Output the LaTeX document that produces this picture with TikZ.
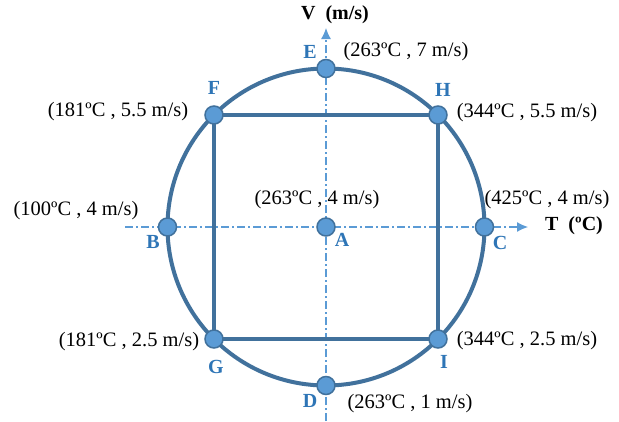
\documentclass[tikz,border=0pt]{standalone}
\usepackage{fontspec}
\setmainfont{Liberation Serif}
\usetikzlibrary{arrows.meta}
\definecolor{ringblue}{HTML}{41719C}
\definecolor{dotblue}{HTML}{5B9BD5}
\definecolor{tagblue}{HTML}{2E75B6}

\begin{document}
\begin{tikzpicture}[x=1pt, y=-1pt,
  ring/.style={draw=ringblue, line width=4pt},
  pt/.style={circle, fill=dotblue, draw=ringblue, line width=1.5pt, minimum size=18pt, inner sep=0pt},
  tag/.style={text=tagblue, font=\fontsize{20}{24}\selectfont\bfseries},
  val/.style={font=\fontsize{20.5}{24}\selectfont},
  axis/.style={draw=dotblue, line width=1.2pt, dash pattern=on 8pt off 3pt on 2pt off 3pt,
    -{Latex[length=11pt,width=10pt]}}]
  \useasboundingbox (0,0) rectangle (619,421);

  % Axes
  \coordinate (O) at (326,227);
  \coordinate (Tstart) at (125,227);
  \coordinate (Tend) at (528,227);
  \coordinate (Vstart) at (326,421);
  \coordinate (Vend) at (326,28);
  \draw[axis] (Tstart) -- (Tend);
  \draw[axis] (Vstart) -- (Vend);
  \node[font=\fontsize{20}{24}\selectfont\bfseries] (Vlab) at (335,15) {V\ \ (m/s)};
  \node[font=\fontsize{20}{24}\selectfont\bfseries] (Tlab) at (574,226) {T\ \ (ºC)};

  % Circle and square
  \coordinate (pF) at (214,115);
  \coordinate (pI) at (438,339);
  \draw[ring] (O) circle (158.5);
  \draw[ring] (pF) rectangle (pI);

  % Points
  \node[pt] (A) at (O) {};
  \node[pt] (B) at (167.5,227) {};
  \node[pt] (C) at (484.5,227) {};
  \node[pt] (D) at (326,385.5) {};
  \node[pt] (E) at (326,68.5) {};
  \node[pt] (F) at (214,115) {};
  \node[pt] (H) at (438,115) {};
  \node[pt] (G) at (214,339) {};
  \node[pt] (I) at (438,339) {};

  % Letters
  \node[tag] (tA) at (342,240) {A};
  \node[tag] (tB) at (153,242) {B};
  \node[tag] (tC) at (500,243) {C};
  \node[tag] (tD) at (310,401) {D};
  \node[tag] (tE) at (310,52) {E};
  \node[tag] (tF) at (214,88) {F};
  \node[tag] (tH) at (443,90) {H};
  \node[tag] (tG) at (216,367) {G};
  \node[tag] (tI) at (444,362) {I};

  % Values
  \node[val] (vA) at (317,200) {(263ºC , 4 m/s)};
  \node[val] (vB) at (76,211) {(100ºC , 4 m/s)};
  \node[val] (vC) at (547,200) {(425ºC , 4 m/s)};
  \node[val] (vD) at (410,404) {(263ºC , 1 m/s)};
  \node[val] (vE) at (406,52) {(263ºC , 7 m/s)};
  \node[val] (vF) at (118,112) {(181ºC , 5.5 m/s)};
  \node[val] (vH) at (527,113) {(344ºC , 5.5 m/s)};
  \node[val] (vG) at (129,342) {(181ºC , 2.5 m/s)};
  \node[val] (vI) at (527,341) {(344ºC , 2.5 m/s)};
\end{tikzpicture}
\end{document}
